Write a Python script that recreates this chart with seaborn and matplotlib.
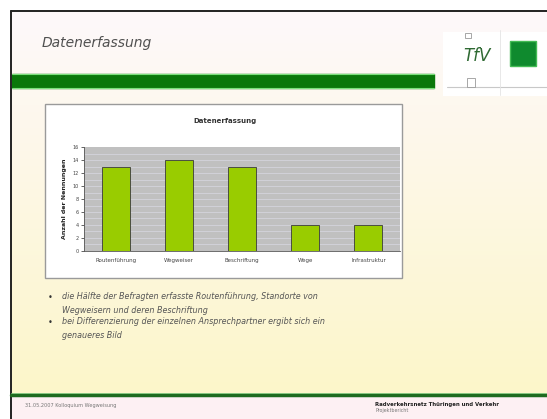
import numpy as np
import pandas as pd
import matplotlib
matplotlib.use("Agg")
import matplotlib.pyplot as plt
from matplotlib.patches import Rectangle
import seaborn as sns

# chart data
categories = ["Routenführung", "Wegweiser", "Beschriftung", "Wege", "Infrastruktur"]
counts = [13, 14, 13, 4, 4]
y_ticks = [0, 2, 4, 6, 8, 10, 12, 14, 16]

chart_title = "Datenerfassung"
y_label = "Anzahl der Nennungen"
slide_title = "Datenerfassung"
bullets = [
    "die Hälfte der Befragten erfasste Routenführung, Standorte von\nWegweisern und deren Beschriftung",
    "bei Differenzierung der einzelnen Ansprechpartner ergibt sich ein\ngenaueres Bild",
]
footer_left = "31.05.2007 Kolloquium Wegweisung"
footer_right = "Radverkehrsnetz Thüringen und Verkehr"
footer_right2 = "Projektbericht"

sns.set_theme(style="white")
plt.rcParams["font.family"] = ["DejaVu Sans"]

W, H = 547, 419
fig = plt.figure(figsize=(W / 100, H / 100), dpi=100)

def fx(px):
    return px / W

def fy(py):
    return 1 - py / H

# slide background: white-pink at top fading to cream
bg = fig.add_axes([0, 0, 1, 1])
bg.set_xlim(0, W)
bg.set_ylim(H, 0)
bg.axis("off")
grad = np.linspace(0, 1, 256)[:, None]
top = np.array([0.995, 0.975, 0.985])
bot = np.array([0.99, 0.965, 0.79])
img = top[None, None, :] * (1 - grad[:, :, None]) + bot[None, None, :] * grad[:, :, None]
bg.imshow(img, extent=[11, W, 395, 11], aspect="auto", zorder=0)
bg.add_patch(Rectangle((11, 397), W - 11, H - 397, color="#fdf0f3", zorder=0))

# slide frame
bg.plot([11, W], [11, 11], color="#222222", lw=1.4, zorder=3)
bg.plot([11, 11], [11, H], color="#222222", lw=1.4, zorder=3)

# header bar
bg.add_patch(Rectangle((12, 74), 422, 14, color="#0a780a", zorder=2))
bg.plot([12, 434], [74, 74], color="#7be07b", lw=0.8, zorder=2)
bg.plot([12, 434], [88, 88], color="#7be07b", lw=0.8, zorder=2)

# logo
bg.add_patch(Rectangle((443, 32), 104, 64, facecolor="white", edgecolor="none", zorder=2))
bg.plot([447, 547], [87, 87], color="#c8c8c8", lw=0.8, zorder=3)
bg.plot([500, 500], [30, 95], color="#e4e4e4", lw=0.6, zorder=3)
bg.add_patch(Rectangle((510, 41), 26, 25, facecolor="#0f8a2e", edgecolor="#44bb55", lw=1, zorder=3))
bg.add_patch(Rectangle((465, 33), 6, 5, facecolor="white", edgecolor="#999999", lw=0.6, zorder=3))
bg.add_patch(Rectangle((467, 78), 8, 9, facecolor="white", edgecolor="#999999", lw=0.6, zorder=3))
bg.text(477, 56, "TfV", fontsize=12, fontstyle="italic", fontweight="normal",
        color="#2f6a33", ha="center", va="center", zorder=4)

# slide title
bg.text(42, 43, slide_title, fontsize=10, fontstyle="italic", color="#505050",
        ha="left", va="center", zorder=4)

# chart frame
bg.add_patch(Rectangle((45, 104), 357, 174, facecolor="white", edgecolor="#9a9a9a", lw=1, zorder=2))

# bullets
for yb, txt in zip([297, 322], bullets):
    bg.text(48, yb, "•", fontsize=6, color="#333333", ha="left", va="center", zorder=4)
    bg.text(62, yb - 5, txt, fontsize=5.8, fontstyle="italic", color="#555555",
            ha="left", va="top", linespacing=1.7, zorder=4)

# footer
bg.plot([11, W], [395, 395], color="#1f6b1f", lw=2.5, zorder=3)
bg.plot([11, W], [393, 393], color="#7bc47b", lw=0.6, zorder=3)
bg.text(25, 405, footer_left, fontsize=3.6, color="#777777", ha="left", va="center", zorder=4)
bg.text(375, 404, footer_right, fontsize=3.9, fontweight="bold", color="#222222",
        ha="left", va="center", zorder=4)
bg.text(375, 410, footer_right2, fontsize=3.4, color="#777777", ha="left", va="center", zorder=4)

# bar chart
ax = fig.add_axes([fx(84), fy(251), fx(400 - 84), (251 - 147) / H])
df = pd.DataFrame({"Kategorie": categories, "Anzahl": counts})
ax.set_facecolor("#c0c0c0")
for yv in np.arange(1, 16, 1):
    ax.axhline(yv, color="#d4d4dc", lw=0.6, zorder=0)
sns.barplot(data=df, x="Kategorie", y="Anzahl", color="#99cc00", width=0.44,
            edgecolor="#3a3a3a", linewidth=0.6, saturation=1, ax=ax, zorder=2)
ax.set_ylim(0, 16)
ax.set_yticks(y_ticks)
ax.set_yticklabels([str(t) for t in y_ticks], fontsize=3.5, color="#444444")
ax.tick_params(axis="x", labelsize=4, colors="#444444", length=0, pad=5)
ax.tick_params(axis="y", length=2, width=0.5, pad=2, left=True)
ax.set_xlabel("")
ax.set_ylabel(y_label, fontsize=4.5, fontweight="bold", color="#222222", labelpad=4)
for side in ["top", "right"]:
    ax.spines[side].set_visible(False)
ax.spines["left"].set_color("#555555")
ax.spines["bottom"].set_color("#555555")
ax.spines["left"].set_linewidth(0.6)
ax.spines["bottom"].set_linewidth(0.6)
fig.text(fx(225), fy(121), chart_title, fontsize=5, fontweight="bold", color="#333333",
         ha="center", va="center")

fig.savefig("out.png", dpi=100)
